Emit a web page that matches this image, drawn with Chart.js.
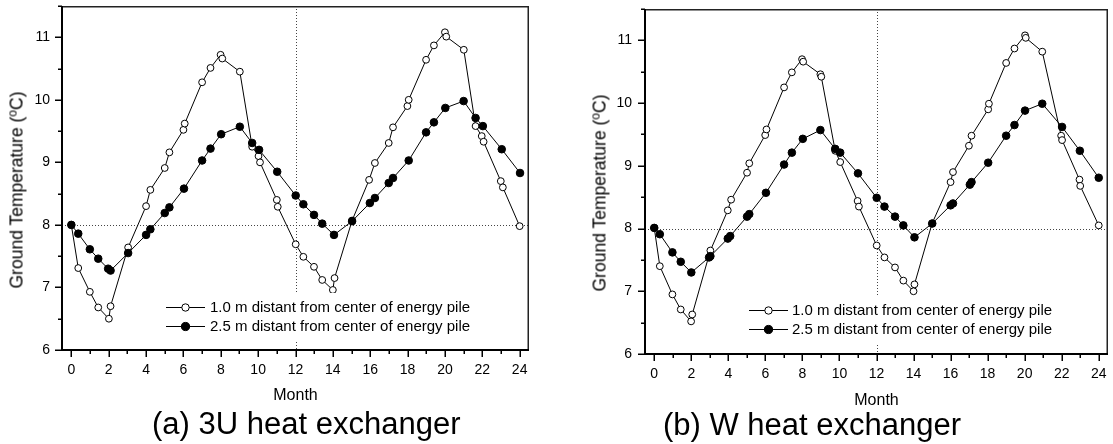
<!DOCTYPE html>
<html>
<head>
<meta charset="utf-8">
<script src="https://cdn.jsdelivr.net/npm/chart.js@4"></script>
<style>
  html, body { margin: 0; padding: 0; background: #fff; }
  body { width: 1113px; height: 444px; position: relative; overflow: hidden; font-family: "Liberation Sans", Arial, sans-serif; color: #000; }
  .cv { position: absolute; top: 0; }
  .yt { position: absolute; white-space: nowrap; font-size: 17.5px; transform: translate(-50%, -50%) rotate(-90deg); }
  .yt sup { font-size: 12px; vertical-align: 6px; line-height: 0; }
  .cap { position: absolute; white-space: nowrap; font-size: 31px; line-height: 31px; }
</style>
</head>
<body>
<div class="cv" style="left:0;width:556px;height:444px;"><canvas id="ca"></canvas></div>
<div class="cv" style="left:556px;width:557px;height:444px;"><canvas id="cb"></canvas></div>
<div class="yt" style="left:16.5px;top:190px;">Ground Temperature (<sup>o</sup>C)</div>
<div class="yt" style="left:600px;top:193px;">Ground Temperature (<sup>o</sup>C)</div>
<div class="cap" style="left:152px;top:408px;">(a) 3U heat exchanger</div>
<div class="cap" style="left:663px;top:409px;">(b) W heat exchanger</div>
<script>
// ---- data ----
const seriesLabels = ["1.0 m distant from center of energy pile", "2.5 m distant from center of energy pile"];
const xTitle = "Month";
const xTickValues = [0, 2, 4, 6, 8, 10, 12, 14, 16, 18, 20, 22, 24];
const yTickValues = [6, 7, 8, 9, 10, 11];
const refMonth = 12;
const refTemp = 8;

// (a) 3U heat exchanger
const aOpenX = [0, 0.37, 0.99, 1.44, 2.01, 2.1, 3.04, 4.0, 4.23, 5.0, 5.25, 6.0, 6.07, 7.0, 7.45, 7.99, 8.08, 9.02, 9.68, 10.02, 10.1, 11.0, 11.05, 12.01, 12.42, 12.99, 13.43, 14.0, 14.09, 15.03, 15.94, 16.25, 16.99, 17.22, 17.99, 18.06, 18.99, 19.41, 20.0, 20.07, 21.01, 21.64, 21.97, 22.07, 22.99, 23.1, 24.0];
const aOpenY = [8.0, 7.31, 6.93, 6.68, 6.50, 6.70, 7.64, 8.30, 8.56, 8.91, 9.16, 9.52, 9.62, 10.28, 10.51, 10.72, 10.66, 10.45, 9.25, 9.10, 9.00, 8.40, 8.29, 7.69, 7.49, 7.33, 7.12, 6.96, 7.15, 8.07, 8.72, 8.99, 9.31, 9.56, 9.90, 10.0, 10.64, 10.87, 11.08, 11.01, 10.80, 9.58, 9.42, 9.33, 8.70, 8.60, 7.98];
const aFillX = [0, 0.37, 0.99, 1.44, 1.97, 2.1, 3.04, 4.0, 4.23, 5.0, 5.25, 6.03, 7.0, 7.45, 8.02, 9.02, 9.68, 10.05, 11.02, 12.01, 12.42, 12.99, 13.43, 14.06, 15.03, 15.98, 16.25, 16.99, 17.22, 18.06, 18.99, 19.41, 20.02, 21.0, 21.64, 22.03, 23.04, 24.02];
const aFillY = [8.0, 7.86, 7.61, 7.46, 7.30, 7.27, 7.55, 7.84, 7.93, 8.19, 8.28, 8.58, 9.03, 9.22, 9.45, 9.57, 9.31, 9.20, 8.85, 8.47, 8.33, 8.16, 8.02, 7.84, 8.06, 8.35, 8.43, 8.67, 8.75, 9.03, 9.48, 9.64, 9.87, 9.98, 9.71, 9.58, 9.21, 8.83];

// (b) W heat exchanger
const bOpenX = [0, 0.3, 0.98, 1.43, 1.99, 2.05, 3.03, 3.97, 4.15, 5.01, 5.13, 5.99, 6.06, 7.01, 7.43, 7.98, 8.04, 8.97, 9.02, 9.77, 10.04, 10.98, 11.05, 12.01, 12.43, 13.0, 13.45, 14.0, 14.05, 15.0, 16.0, 16.13, 16.99, 17.13, 18.03, 18.07, 19.0, 19.45, 20.02, 20.06, 20.95, 21.97, 22.02, 22.96, 23.0, 24.0];
const bOpenY = [8.01, 7.40, 6.95, 6.71, 6.52, 6.63, 7.65, 8.29, 8.46, 8.89, 9.04, 9.49, 9.58, 10.25, 10.49, 10.70, 10.66, 10.46, 10.42, 9.24, 9.06, 8.44, 8.35, 7.73, 7.54, 7.38, 7.17, 7.0, 7.11, 8.08, 8.74, 8.90, 9.32, 9.48, 9.90, 9.99, 10.64, 10.87, 11.08, 11.04, 10.82, 9.48, 9.41, 8.78, 8.68, 8.05];
const bFillX = [0, 0.3, 0.98, 1.43, 2.0, 2.96, 3.03, 3.97, 4.1, 5.01, 5.13, 6.03, 7.01, 7.43, 8.02, 8.97, 9.77, 10.04, 11.0, 12.01, 12.43, 13.0, 13.45, 14.05, 15.01, 16.0, 16.13, 17.04, 17.13, 18.03, 19.0, 19.45, 20.02, 20.95, 22.02, 22.98, 24.0];
const bFillY = [8.01, 7.91, 7.62, 7.47, 7.30, 7.54, 7.56, 7.84, 7.88, 8.19, 8.23, 8.57, 9.02, 9.21, 9.43, 9.57, 9.27, 9.21, 8.88, 8.49, 8.35, 8.19, 8.05, 7.86, 8.08, 8.37, 8.40, 8.70, 8.74, 9.05, 9.48, 9.65, 9.88, 9.99, 9.62, 9.24, 8.81];

// ---- helpers ----
const FONT = '"Liberation Sans", Arial, sans-serif';
function pts(xs, ys) { return xs.map((x, i) => ({ x: x, y: ys[i] })); }

const decorPlugin = {
  id: 'decor',
  beforeDatasetsDraw(chart, args, o) {
    const { ctx, chartArea: ca, scales: { x, y } } = chart;
    ctx.save();
    ctx.strokeStyle = '#444';
    ctx.lineWidth = 1;
    ctx.setLineDash([1, 2]);
    const yr = Math.round(y.getPixelForValue(refTemp)) + 0.5;
    ctx.beginPath(); ctx.moveTo(ca.left, yr); ctx.lineTo(ca.right, yr); ctx.stroke();
    const xr = Math.round(x.getPixelForValue(refMonth)) + 0.5;
    ctx.beginPath(); ctx.moveTo(xr, ca.top); ctx.lineTo(xr, ca.bottom); ctx.stroke();
    ctx.restore();
  },
  afterDatasetsDraw(chart, args, o) {
    const { ctx, chartArea: ca, scales: { x, y } } = chart;
    ctx.save();
    // legend box
    const L = o.legend;
    ctx.fillStyle = '#fff';
    ctx.fillRect(L.box[0], L.box[1], L.box[2], L.box[3]);
    chart.data.datasets.forEach((ds, i) => {
      const ry = L.rowY[i];
      ctx.strokeStyle = '#000'; ctx.lineWidth = 1; ctx.setLineDash([]);
      ctx.beginPath(); ctx.moveTo(L.lineX[0], ry + 0.5); ctx.lineTo(L.lineX[1], ry + 0.5); ctx.stroke();
      ctx.beginPath(); ctx.arc(L.markX, ry + 0.5, ds.pointRadius + 0.3, 0, Math.PI * 2);
      ctx.fillStyle = ds.pointBackgroundColor; ctx.fill(); ctx.stroke();
      ctx.fillStyle = '#000';
      ctx.font = '15px ' + FONT;
      ctx.textBaseline = 'middle'; ctx.textAlign = 'left';
      ctx.fillText(ds.label, L.textX, ry + 1);
    });
    // frame
    ctx.strokeStyle = '#222'; ctx.setLineDash([]);
    ctx.lineWidth = 1.5;
    ctx.beginPath(); ctx.moveTo(ca.left, ca.top + 0.75); ctx.lineTo(ca.right - 0.75, ca.top + 0.75); ctx.lineTo(ca.right - 0.75, ca.bottom); ctx.stroke();
    ctx.strokeStyle = '#000';
    ctx.lineWidth = 2;
    ctx.beginPath(); ctx.moveTo(ca.left, ca.top); ctx.lineTo(ca.left, ca.bottom); ctx.lineTo(ca.right, ca.bottom); ctx.stroke();
    // ticks
    ctx.lineWidth = 1.5;
    for (let m = 0; m <= 24; m++) {
      const px = Math.round(x.getPixelForValue(m)) + 0.25;
      const len = (m % 2 === 0) ? 7 : 4;
      ctx.beginPath(); ctx.moveTo(px, ca.bottom); ctx.lineTo(px, ca.bottom + len); ctx.stroke();
    }
    for (let t = 6; t <= 11.5; t += 0.5) {
      const py = Math.round(y.getPixelForValue(t)) + 0.25;
      const len = (Math.abs(t - Math.round(t)) < 1e-6) ? 7 : 4;
      ctx.beginPath(); ctx.moveTo(ca.left, py); ctx.lineTo(ca.left - len, py); ctx.stroke();
    }
    ctx.restore();
  }
};

function makeChart(id, openX, openY, fillX, fillY, geo) {
  const datasets = [
    { label: seriesLabels[0], data: pts(openX, openY), showLine: true, borderColor: '#000', borderWidth: 1,
      pointRadius: 3.4, pointBorderWidth: 1, pointBackgroundColor: '#fff', pointBorderColor: '#000',
      backgroundColor: '#fff', order: 2 },
    { label: seriesLabels[1], data: pts(fillX, fillY), showLine: true, borderColor: '#000', borderWidth: 1,
      pointRadius: 3.8, pointBorderWidth: 1, pointBackgroundColor: '#000', pointBorderColor: '#000',
      backgroundColor: '#000', order: 1 }
  ];
  return new Chart(document.getElementById(id), {
    type: 'scatter',
    data: { datasets },
    plugins: [decorPlugin],
    options: {
      responsive: true, maintainAspectRatio: false, animation: false,
      events: [],
      layout: { padding: { left: 0, top: geo.top, right: geo.right, bottom: 0 } },
      plugins: {
        legend: { display: false }, tooltip: { enabled: false },
        decor: { legend: geo.legend }
      },
      scales: {
        x: {
          type: 'linear', min: -0.5, max: 24.5,
          grid: { display: false, drawTicks: false }, border: { display: false },
          afterBuildTicks: (s) => { s.ticks = xTickValues.map(v => ({ value: v })); },
          afterFit: (s) => { s.height = geo.xh; s.paddingLeft = 0; s.paddingRight = 0; },
          ticks: { color: '#000', padding: geo.xpad, font: { size: 14, family: FONT }, maxRotation: 0, autoSkip: false,
                   callback: (v) => String(v) },
          title: { display: true, text: xTitle, color: '#000', font: { size: 16, family: FONT }, padding: { top: 0, bottom: geo.mpad } }
        },
        y: {
          type: 'linear', min: 6, max: 11.5,
          grid: { display: false, drawTicks: false }, border: { display: false },
          afterBuildTicks: (s) => { s.ticks = yTickValues.map(v => ({ value: v })); },
          afterFit: (s) => { s.width = geo.yw; s.paddingTop = 0; s.paddingBottom = 0; },
          ticks: { color: '#000', padding: geo.ypad, font: { size: 14, family: FONT }, callback: (v) => String(v) }
        }
      }
    }
  });
}

makeChart('ca', aOpenX, aOpenY, aFillX, aFillY, {
  top: 6, right: 27, xh: 94, yw: 62, xpad: 12, ypad: 12, mpad: 39,
  legend: { box: [160, 293, 325, 49], rowY: [307, 326], lineX: [166, 205], markX: 185.5, textX: 210 }
});
makeChart('cb', bOpenX, bOpenY, bFillX, bFillY, {
  top: 9, right: 2, xh: 90, yw: 89, xpad: 12, ypad: 13, mpad: 34,
  legend: { box: [187, 296, 325, 49], rowY: [310, 329], lineX: [193, 232], markX: 212.5, textX: 236 }
});
</script>
</body>
</html>
